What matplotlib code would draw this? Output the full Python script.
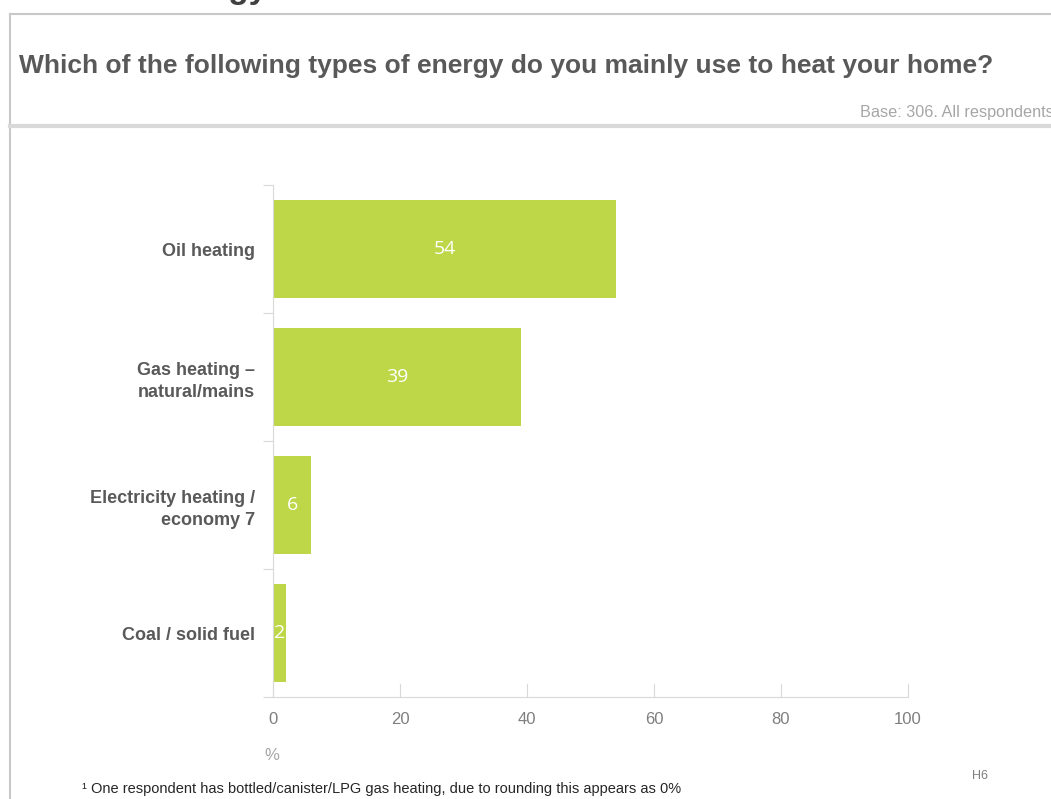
import matplotlib
matplotlib.use("Agg")
import matplotlib.pyplot as plt
from matplotlib.lines import Line2D

# Survey results: main energy type used for home heating (% of respondents)
categories = ["Oil heating", "Gas heating \u2013\nnatural/mains",
              "Electricity heating /\neconomy 7", "Coal / solid fuel"]
values = [54, 39, 6, 2]
x_ticks = [0, 20, 40, 60, 80, 100]

BAR = "#bdd749"
DARK = "#595959"
GREY = "#7f7f7f"
NARROW = ["Liberation Sans Narrow", "Liberation Sans", "DejaVu Sans"]

fig = plt.figure(figsize=(10.51, 7.99), dpi=100)

# slide frame and separator
fig.add_artist(Line2D([10 / 1051, 10 / 1051], [0, 1 - 14 / 799],
                      color="#c8c8c8", lw=1.5, transform=fig.transFigure))
fig.add_artist(Line2D([10 / 1051, 1], [1 - 14 / 799, 1 - 14 / 799],
                      color="#c8c8c8", lw=1.5, transform=fig.transFigure))
fig.add_artist(Line2D([10 / 1051, 1], [1 - 126 / 799, 1 - 126 / 799],
                      color="#d9d9d9", lw=3, transform=fig.transFigure))

# slide heading, cut by the top edge
fig.text(268 / 1051, 1 + 2 / 799, "Energy", ha="right", va="baseline",
         fontsize=24, fontweight="bold", color="#404040", family=NARROW)

fig.text(19 / 1051, 1 - 66 / 799,
         "Which of the following types of energy do you mainly use to heat your home?",
         ha="left", va="center", fontsize=19, fontweight="bold", color=DARK,
         family=NARROW)
fig.text(860 / 1051, 1 - 112 / 799, "Base: 306. All respondents",
         ha="left", va="center", fontsize=11.7, color="#a6a6a6", family=NARROW)

ax = fig.add_axes([273 / 1051, 1 - 697 / 799, 635 / 1051, 512 / 799])
pos = list(range(len(categories)))
bars = ax.barh(pos, values, height=0.76, color=BAR)
ax.set_xlim(0, 100)
ax.set_ylim(len(categories) - 0.5, -0.5)

for b, v in zip(bars, values):
    ax.text(b.get_width() / 2, b.get_y() + b.get_height() / 2, str(v),
            ha="center", va="center", color="white", fontsize=14,
            family=["Open Sans", "DejaVu Sans"])

ax.set_xticks(x_ticks)
ax.set_xticklabels([str(t) for t in x_ticks], family=NARROW, fontsize=12,
                   color=GREY)
# ticks at the x-axis drawn upwards from the baseline
for t in x_ticks:
    ax.plot([t, t], [len(categories) - 0.5, len(categories) - 0.5 - 0.1],
            color="#d9d9d9", lw=0.8, clip_on=False)
ax.tick_params(axis="x", length=0, pad=11)

ax.set_yticks(pos)
ax.set_yticklabels(categories, fontsize=13, fontweight="bold", color=DARK,
                   family=["Liberation Sans", "DejaVu Sans"], linespacing=1.35)
ax.tick_params(axis="y", length=0, pad=13)
# band separators on the category axis
ax.set_yticks([i - 0.5 for i in range(len(categories) + 1)], minor=True)
ax.tick_params(axis="y", which="minor", length=7, width=0.8, color="#d9d9d9")

for side in ["top", "right"]:
    ax.spines[side].set_visible(False)
ax.spines["left"].set_color("#d9d9d9")
ax.spines["bottom"].set_color("#d9d9d9")

fig.text(272 / 1051, 1 - 755 / 799, "%", ha="center", va="center",
         fontsize=12, color="#a6a6a6", family=NARROW)
fig.text(980 / 1051, 1 - 776 / 799, "H6", ha="center", va="center",
         fontsize=9, color=GREY, family=NARROW)
fig.text(82 / 1051, 1 - 789 / 799,
         "\u00b9 One respondent has bottled/canister/LPG gas heating, due to rounding this appears as 0%",
         ha="left", va="center", fontsize=10.5, color="#262626", family=NARROW)

fig.savefig("out.png", dpi=100)
